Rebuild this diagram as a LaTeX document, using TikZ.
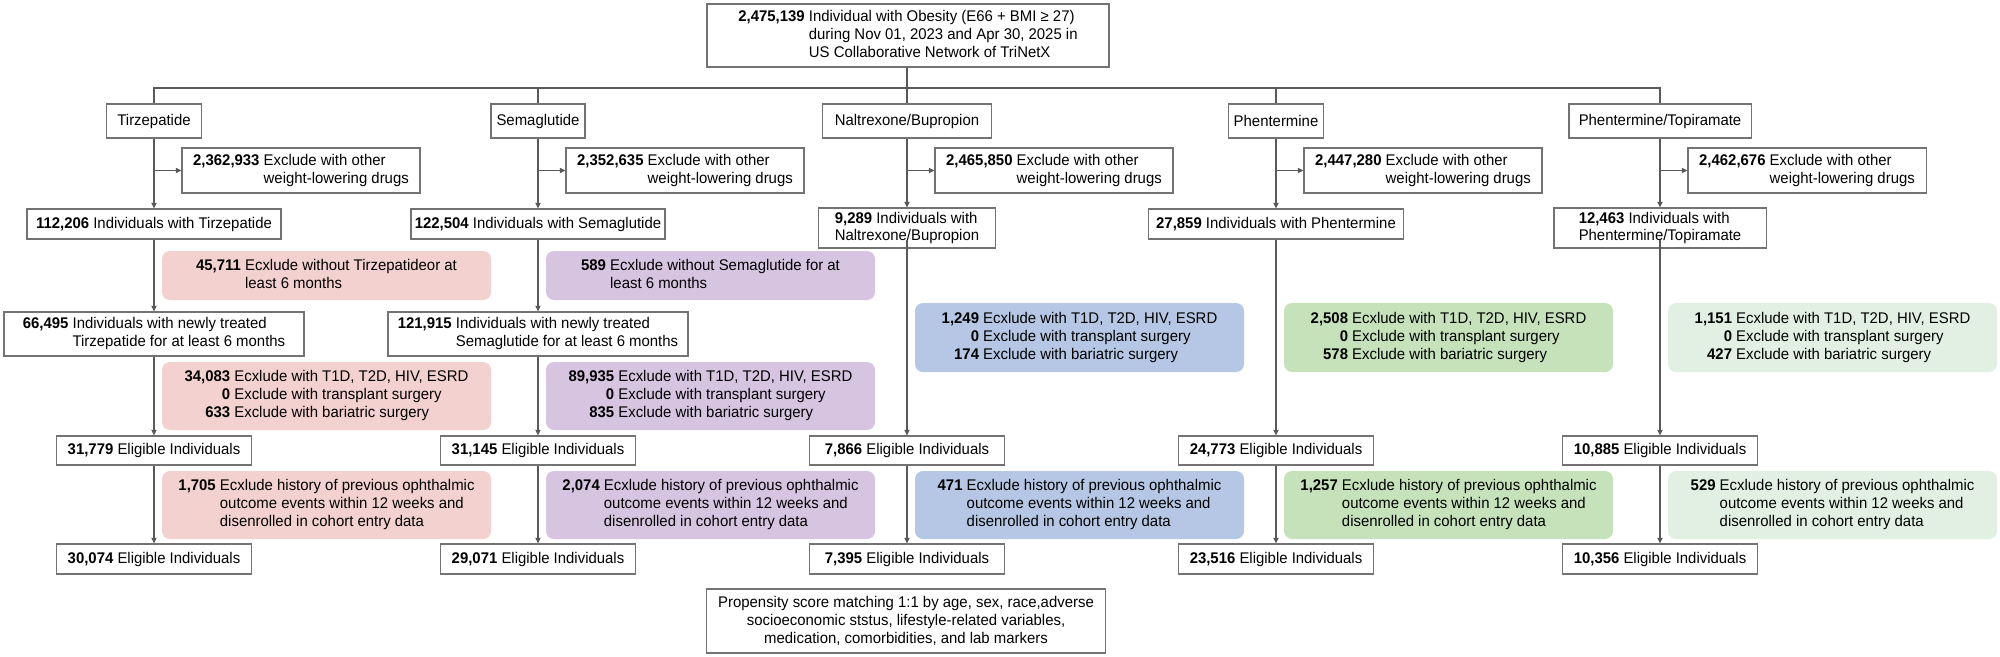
\documentclass[tikz,border=0pt]{standalone}
\usepackage{fontspec}
\setmainfont{Liberation Sans}[FakeStretch=0.965]
\usetikzlibrary{arrows.meta}
\definecolor{pinkbg}{RGB}{242,209,206}
\definecolor{lilacbg}{RGB}{214,196,224}
\definecolor{bluebg}{RGB}{181,199,228}
\definecolor{greenbg}{RGB}{198,226,186}
\definecolor{mintbg}{RGB}{226,240,228}
\newcommand{\numrows}[1]{\begin{tabular}{@{}r@{ }l@{}}#1\end{tabular}}

\begin{document}
\begin{tikzpicture}[x=0.02cm, y=-0.02cm, font=\fontsize{8.8}{10.2}\selectfont,
  box/.style={draw=black!55, line width=0.6pt, fill=white, inner sep=0pt, align=center},
  tint/.style={fill=#1, rounded corners=0.16cm, inner sep=0pt},
  sz/.style 2 args={minimum width=#1*0.02cm, minimum height=#2*0.02cm},
  wire/.style={draw=black!65, line width=0.6pt},
  arr/.style={wire, -{Triangle[length=3.2pt, width=3pt]}}]
\useasboundingbox (0,0) rectangle (2000,656);

% cohort
\node[box, sz={402}{63}] (top) at (908,35.5) {\numrows{\textbf{2,475,139} & Individual with Obesity (E66 + BMI ≥ 27)\\
  & during Nov 01, 2023 and Apr 30, 2025 in\\ & US Collaborative Network of TriNetX}};

% drugs
\node[box, sz={95}{34}] (d1) at (154,121) {Tirzepatide};
\node[box, sz={94}{34}] (d2) at (538,121) {Semaglutide};
\node[box, sz={169}{34}] (d3) at (907,121) {Naltrexone/Bupropion};
\node[box, sz={95}{34}] (d4) at (1276,121) {Phentermine};
\node[box, sz={182}{34}] (d5) at (1660,121) {Phentermine/Topiramate};
\coordinate (bar) at (907,88);
\draw[wire] (top.south -| bar) -- (bar);
\draw[wire] (d1.north) |- (bar) -| (d5.north);
\foreach \i in {2,3,4} \draw[wire] (d\i.north) -- (d\i.north |- bar);

% other weight-lowering drugs
\foreach \i/\cx/\nx in {1/154/{2,362,933}, 2/538/{2,352,635}, 3/907/{2,465,850}, 4/1276/{2,447,280}, 5/1660/{2,462,676}}
  \node[box, sz={238}{45}] (x\i) at (\cx+147,170.5) {\numrows{\textbf{\nx} & Exclude with other\\ & weight-lowering drugs}};

\node[box, sz={254}{30}] (n1) at (154,224) {\textbf{112,206} Individuals with Tirzepatide};
\node[box, sz={254}{30}] (n2) at (538,224) {\textbf{122,504} Individuals with Semaglutide};
\node[box, sz={177}{40}, align=left] (n3) at (907,228) {\textbf{9,289} Individuals with\\Naltrexone/Bupropion};
\node[box, sz={255}{30}] (n4) at (1276,224) {\textbf{27,859} Individuals with Phentermine};
\node[box, sz={212}{40}, align=left] (n5) at (1660,228) {\textbf{12,463} Individuals with\\Phentermine/Topiramate};
\foreach \i in {1,...,5} {
  \draw[arr] (d\i) -- (n\i);
  \draw[arr] (d\i.south |- x\i.west) -- (x\i);
}

% 6 months
\node[tint=pinkbg, sz={329}{49}] (s1) at (326.5,275.5) {\numrows{\textbf{45,711} & Ecxlude without Tirzepatideor at\\ & least 6 months}};
\node[tint=lilacbg, sz={329}{49}] (s2) at (710.5,275.5) {\numrows{\textbf{589} & Ecxlude without Semaglutide for at\\ & least 6 months}};
\node[box, sz={300}{44}] (t1) at (154,334) {\numrows{\textbf{66,495} & Individuals with newly treated\\ & Tirzepatide for at least 6 months}};
\node[box, sz={300}{44}] (t2) at (538,334) {\numrows{\textbf{121,915} & Individuals with newly treated\\ & Semaglutide for at least 6 months}};

% comorbidities
\node[tint=pinkbg, sz={329}{68}] (m1) at (326.5,396) {\numrows{\textbf{34,083} & Ecxlude with T1D, T2D, HIV, ESRD\\ \textbf{0} & Exclude with transplant surgery\\ \textbf{633} & Exclude with bariatric surgery}};
\node[tint=lilacbg, sz={329}{68}] (m2) at (710.5,396) {\numrows{\textbf{89,935} & Ecxlude with T1D, T2D, HIV, ESRD\\ \textbf{0} & Exclude with transplant surgery\\ \textbf{835} & Exclude with bariatric surgery}};
\node[tint=bluebg, sz={329}{69}] (m3) at (1079.5,337.5) {\numrows{\textbf{1,249} & Ecxlude with T1D, T2D, HIV, ESRD\\ \textbf{0} & Exclude with transplant surgery\\ \textbf{174} & Exclude with bariatric surgery}};
\node[tint=greenbg, sz={329}{69}] (m4) at (1448.5,337.5) {\numrows{\textbf{2,508} & Ecxlude with T1D, T2D, HIV, ESRD\\ \textbf{0} & Exclude with transplant surgery\\ \textbf{578} & Exclude with bariatric surgery}};
\node[tint=mintbg, sz={329}{69}] (m5) at (1832.5,337.5) {\numrows{\textbf{1,151} & Ecxlude with T1D, T2D, HIV, ESRD\\ \textbf{0} & Exclude with transplant surgery\\ \textbf{427} & Exclude with bariatric surgery}};

% eligible, ophthalmic history, final
\foreach \i/\cx/\c/\e/\o/\f in {1/154/pinkbg/{31,779}/{1,705}/{30,074}, 2/538/lilacbg/{31,145}/{2,074}/{29,071},
    3/907/bluebg/{7,866}/{471}/{7,395}, 4/1276/greenbg/{24,773}/{1,257}/{23,516}, 5/1660/mintbg/{10,885}/{529}/{10,356}} {
  \node[box, sz={195}{29}] (e\i) at (\cx,450.5) {\textbf{\e} Eligible Individuals};
  \node[tint=\c, sz={329}{68}] (o\i) at (\cx+172.5,505) {\numrows{\textbf{\o} & Ecxlude history of previous ophthalmic\\
    & outcome events within 12 weeks and\\ & disenrolled in cohort entry data}};
  \node[box, sz={195}{30}] (f\i) at (\cx,559) {\textbf{\f} Eligible Individuals};
  \draw[arr] (e\i) -- (f\i);
}
\foreach \i in {1,2} {
  \draw[arr] (n\i) -- (t\i);
  \draw[arr] (t\i) -- (e\i);
}
\foreach \i in {3,4,5} \draw[arr] (n\i |- n1.south) -- (e\i);

\node[box, sz={399}{64}] (psm) at (906,621) {Propensity score matching 1:1 by age, sex, race,adverse\\
  socioeconomic ststus, lifestyle-related variables,\\ medication, comorbidities, and lab markers};
\end{tikzpicture}
\end{document}
